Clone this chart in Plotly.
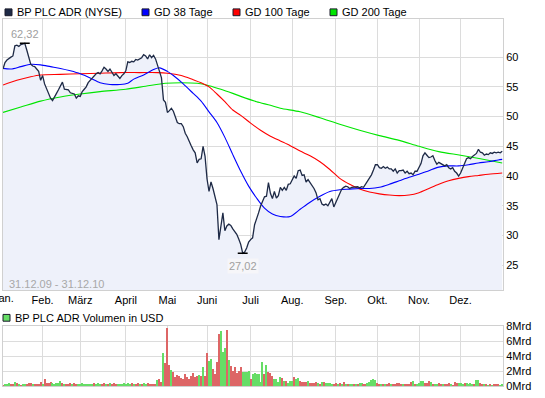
import pandas as pd
import plotly.graph_objects as go

# ---------------- data ----------------
holidays = ['2010-01-01', '2010-01-18', '2010-02-15', '2010-04-02', '2010-05-31',
            '2010-07-05', '2010-09-06', '2010-11-25', '2010-12-24']
dates = [d for d in pd.bdate_range('2009-12-31', '2010-12-31')
         if d.strftime('%Y-%m-%d') not in holidays]

month_labels = ['Jan.', 'Feb.', 'März', 'April', 'Mai', 'Juni', 'Juli',
                'Aug.', 'Sep.', 'Okt.', 'Nov.', 'Dez.']

price = [
    58.0, 59.1, 59.5, 59.8, 60.0, 60.2, 61.9, 62.0, 61.8, 62.1,
    62.2, 62.32, 61.2, 59.9, 58.8, 58.5, 58.4, 58.0, 57.6, 56.1,
    56.9, 55.5, 54.7, 53.9, 53.1, 52.7, 53.4, 53.9, 54.5, 55.3,
    55.8, 54.6, 54.6, 54.5, 54.0, 53.9, 53.8, 53.1, 53.5, 53.4,
    54.2, 54.6, 55.0, 55.7, 56.1, 56.5, 56.8, 57.2, 57.4, 57.2,
    57.7, 58.3, 58.0, 57.6, 58.0, 57.4, 56.9, 57.2, 56.7, 56.4,
    56.9, 57.2, 57.7, 59.2, 59.1, 59.3, 59.2, 59.6, 59.5, 59.7,
    59.9, 60.4, 60.2, 59.7, 60.4, 59.9, 60.3, 59.7, 58.4, 57.6,
    56.5, 52.8, 52.4, 50.7, 51.0, 51.4, 50.9, 50.1, 49.0, 48.8,
    48.8, 48.3, 47.2, 46.6, 45.7, 45.1, 44.4, 43.9, 42.2, 42.8,
    42.9, 45.0, 43.3, 39.5, 37.4, 39.0, 37.9, 36.4, 35.2, 29.3,
    31.5, 33.8, 30.8, 31.6, 31.9, 31.7, 31.1, 30.6, 30.2, 29.4,
    28.5, 27.02, 27.2, 27.9, 28.9, 29.3, 29.6, 31.8, 33.0, 33.8,
    34.9, 35.6, 36.5, 36.6, 38.9, 37.1, 36.2, 37.4, 36.3, 36.7,
    38.1, 37.6, 38.1, 37.6, 38.6, 38.7, 39.5, 40.0, 39.6, 40.9,
    41.0, 40.1, 40.2, 39.0, 39.4, 38.9, 38.5, 37.9, 37.2, 36.0,
    36.2, 35.3, 35.1, 35.3, 35.0, 35.5, 36.2, 34.8, 35.5, 36.3,
    37.1, 37.8, 38.1, 38.3, 38.2, 37.9, 38.1, 38.1, 38.1, 38.2,
    38.0, 38.2, 38.1, 38.6, 39.0, 39.6, 40.2, 41.0, 41.9, 41.9,
    41.4, 41.3, 41.6, 41.3, 41.5, 41.2, 41.2, 40.8, 41.2, 40.5,
    40.9, 40.9, 41.0, 40.5, 40.8, 40.4, 40.5, 40.2, 40.8, 40.8,
    41.4, 42.1, 43.4, 43.9, 43.5, 43.1, 43.2, 43.4, 42.6, 42.0,
    42.3, 42.1, 41.9, 41.7, 41.9, 41.4, 41.2, 41.4, 40.8, 40.5,
    40.0, 40.5, 41.3, 42.0, 42.9, 43.1, 42.9, 43.3, 43.5, 43.8,
    44.5, 44.0, 43.9, 43.5, 43.7, 43.6, 43.9, 43.8, 44.0, 43.9,
    44.0, 43.9, 44.17,
]

gd38_day = [0, 4, 9, 14, 19, 24, 29, 34, 39, 44, 49, 54, 59, 63, 66, 71, 76, 79,
            83, 86, 91, 96, 100, 104, 108, 112, 116, 120, 124, 128, 132, 136,
            140, 145, 150, 155, 160, 165, 170, 175, 180, 185, 190, 195, 200,
            205, 210, 215, 220, 225, 230, 235, 240, 245, 250, 252]
gd38 = [58.1, 58.0, 58.4, 58.8, 58.7, 58.4, 58.1, 57.7, 57.2, 56.5, 55.7, 55.4,
        55.4, 55.6, 56.3, 57.0, 57.9, 58.2, 57.6, 56.9, 55.5, 53.9, 52.6, 50.8,
        49.0, 46.5, 43.6, 40.8, 38.3, 36.3, 34.6, 33.6, 33.2, 33.2, 34.4, 35.6,
        36.6, 37.4, 37.7, 37.8, 37.9, 37.9, 38.1, 38.6, 39.2, 39.8, 40.3, 40.9,
        41.5, 41.7, 41.7, 41.9, 42.2, 42.4, 42.7, 42.8]

gd100_day = [0, 7, 14, 19, 29, 39, 49, 59, 69, 78, 83, 90, 96, 100, 104, 108,
             112, 116, 120, 125, 130, 135, 140, 145, 150, 155, 160, 165, 170,
             175, 180, 185, 190, 195, 200, 205, 210, 215, 220, 225, 230, 235,
             240, 245, 252]
gd100 = [55.3, 56.1, 56.7, 57.0, 57.1, 57.2, 57.3, 57.4, 57.4, 57.4, 57.3, 56.9,
         56.2, 55.7, 55.0, 53.8, 52.5, 51.1, 50.2, 48.9, 47.7, 46.7, 45.9, 45.1,
         44.2, 43.4, 42.4, 41.1, 39.6, 38.6, 37.8, 37.3, 37.0, 36.8, 36.7, 36.8,
         37.2, 37.9, 38.6, 39.2, 39.6, 39.9, 40.1, 40.3, 40.5]

gd200_day = [0, 9, 19, 29, 39, 49, 62, 72, 82, 90, 98, 104, 110, 116, 120, 128,
             135, 140, 150, 160, 170, 180, 190, 200, 210, 220, 231, 241, 252]
gd200 = [50.7, 51.6, 52.6, 53.3, 53.8, 54.2, 54.6, 55.1, 55.6, 55.7, 55.6, 55.2,
         54.6, 53.9, 53.4, 52.5, 51.9, 51.4, 50.8, 49.8, 48.7, 47.7, 46.8, 46.0,
         45.0, 44.1, 43.5, 42.9, 42.2]

# volume in Mrd USD
volume = [
    0.2, 0.3, 0.3, 0.45, 0.3, 0.3, 0.6, 0.45, 0.3, 0.2,
    0.3, 0.3, 0.3, 0.45, 0.45, 0.3, 0.3, 0.3, 0.3, 0.5,
    0.3, 0.95, 0.45, 0.45, 0.55, 0.45, 0.3, 0.45, 0.45, 0.7,
    0.45, 0.3, 0.3, 0.3, 0.45, 0.3, 0.45, 0.3, 0.3, 0.3,
    0.45, 0.3, 0.3, 0.3, 0.3, 0.3, 0.45, 0.3, 0.45, 0.3,
    0.3, 0.45, 0.3, 0.3, 0.45, 0.3, 0.45, 0.3, 0.3, 0.3,
    0.3, 0.45, 0.3, 0.45, 0.3, 0.45, 0.3, 0.3, 0.45, 0.3,
    0.3, 0.45, 0.3, 0.45, 0.3, 0.3, 0.3, 0.3, 0.8, 0.95,
    0.55, 4.4, 3.13, 7.69, 2.86, 2.19, 1.88, 1.21, 1.43, 1.34,
    1.07, 0.98, 1.61, 1.21, 0.98, 1.34, 1.74, 1.21, 1.34, 1.52,
    1.34, 2.55, 1.34, 4.42, 3.35, 3.62, 2.28, 1.61, 3.22, 6.97,
    7.37, 4.56, 5.09, 7.51, 3.49, 2.68, 2.01, 2.55, 1.74, 2.01,
    2.55, 1.88, 1.88, 1.88, 2.01, 0.94, 1.61, 1.74, 1.61, 1.61,
    0.54, 3.22, 1.61, 2.86, 1.88, 1.74, 1.34, 0.94, 0.94, 0.54,
    1.21, 1.07, 0.67, 0.67, 0.40, 0.67, 0.67, 1.21, 0.94, 1.07,
    0.67, 0.54, 0.54, 0.54, 0.67, 0.40, 0.40, 0.40, 0.54, 0.40,
    0.27, 0.54, 0.54, 0.40, 0.40, 0.40, 0.27, 0.27, 0.40, 0.27,
    0.40, 0.27, 0.54, 0.27, 0.27, 0.27, 0.27, 0.27, 0.27, 0.27,
    0.40, 0.40, 0.27, 0.27, 0.40, 0.54, 0.80, 0.94, 0.80, 0.40,
    0.27, 0.27, 0.27, 0.27, 0.27, 0.40, 0.27, 0.27, 0.27, 0.40,
    0.40, 0.27, 0.27, 0.27, 0.27, 0.27, 0.54, 0.67, 0.27, 0.27,
    0.40, 0.67, 0.67, 0.40, 0.40, 0.67, 0.54, 0.27, 0.27, 0.27,
    0.40, 0.27, 0.27, 0.27, 0.27, 0.40, 0.27, 0.18, 0.54, 0.40,
    0.40, 0.40, 0.27, 0.40, 0.40, 0.27, 0.40, 0.27, 0.27, 0.80,
    0.80, 0.40, 0.27, 0.27, 0.27, 0.18, 0.27, 0.18, 0.27, 0.27,
    0.27, 0.18, 0.27,
]
# g = close above previous close, r = below
volume_dir = (
    "rgggrrgrgr" "ggrrrgrrrr" "grrrrggggg" "rgrrrgrrgg" "ggggggrggg"
    "rrgrgrrrgg" "gggggrgrrg" "rggrrrrrgr" "rgrrrgrrrr" "rrrrrrrrrg"
    "rgrrggrrrr" "gggrgrrrrr" "rggggrgggg" "ggrgrrrggg" "grgrgggrgg"
    "rrrrgrrrrg" "rgrggggrrg" "rgrgrggrgr" "ggrrgggggr" "rgrgrrgrrr"
    "rrgrrrrgrg" "gggrrrgrgg" "rrgrrrgrrr" "gggrggggrg" "grrgrgrgrr"
    "rgg"
)

# ---------------- geometry helpers ----------------
W, H = 545, 398
def px(v):
    return v / W
def py(v):
    return 1 - v / H

x = list(range(len(dates)))
tick_idx = [0] + [next(i for i, d in enumerate(dates) if d.year == 2010 and d.month == m)
                  for m in range(2, 13)]
colors = ['#66dd66' if c == 'g' else '#dd6666' for c in volume_dir]

FONT = 'Liberation Sans, Arial, sans-serif'
GRID = '#dcdcdc'
NAVY = '#1e2a46'
X0, X1 = 3, 503          # plot area left / right (px)
XR = [0, 252.4]          # x range in trading days

fig = go.Figure()
fig.add_trace(go.Scatter(x=x, y=price, fill='tozeroy', fillcolor='#eef1fa',
                         line=dict(width=0), hoverinfo='skip', showlegend=False))
fig.add_trace(go.Scatter(x=gd200_day, y=gd200, mode='lines', name='GD 200 Tage',
                         line=dict(color='#00e600', width=1.1, shape='spline', smoothing=0.8)))
fig.add_trace(go.Scatter(x=gd100_day, y=gd100, mode='lines', name='GD 100 Tage',
                         line=dict(color='#ff0000', width=1.1, shape='spline', smoothing=0.8)))
fig.add_trace(go.Scatter(x=gd38_day, y=gd38, mode='lines', name='GD 38 Tage',
                         line=dict(color='#0000ff', width=1.1, shape='spline', smoothing=0.8)))
fig.add_trace(go.Scatter(x=x, y=price, mode='lines', name='BP PLC ADR (NYSE)',
                         text=[d.strftime('%d.%m.%y') for d in dates],
                         line=dict(color=NAVY, width=1.3)))
fig.add_trace(go.Bar(x=x, y=volume, marker=dict(color=colors, line=dict(width=0)),
                     width=0.55, xaxis='x2', yaxis='y2', name='Volumen'))

# extreme markers
i_max = max(range(len(price)), key=lambda i: price[i])
i_min = min(range(len(price)), key=lambda i: price[i])
shapes = []
annotations = []
for i in (i_max, i_min):
    shapes.append(dict(type='line', xref='x', yref='y', x0=i - 2.5, x1=i + 2.5,
                       y0=price[i], y1=price[i], line=dict(color='black', width=1.5)))
annotations.append(dict(xref='x', yref='y', x=i_max, y=price[i_max],
                        text=f"{price[i_max]:.2f}".replace('.', ','), showarrow=False,
                        yanchor='bottom', yshift=1,
                        font=dict(family=FONT, size=11, color='#a0a0a0')))
annotations.append(dict(xref='x', yref='y', x=i_min, y=price[i_min],
                        text=f"{price[i_min]:.2f}".replace('.', ','), showarrow=False,
                        yanchor='top', yshift=-5, bgcolor='rgba(246,246,248,0.9)',
                        font=dict(family=FONT, size=11, color='#a0a0a0')))
annotations.append(dict(xref='paper', yref='paper', x=px(7), y=py(287),
                        xanchor='left', yanchor='middle', showarrow=False,
                        text=f"{dates[0].strftime('%d.%m.%y')} - {dates[-1].strftime('%d.%m.%y')}",
                        font=dict(family=FONT, size=11, color='#a8a8a8')))

# first month label sits on the left edge and is clipped there, as in the reference
jan_px = X0 + (tick_idx[0] - XR[0]) / (XR[1] - XR[0]) * (X1 - X0)
annotations.append(dict(xref='paper', yref='paper', x=px(jan_px), y=py(301),
                        xanchor='center', yanchor='middle', showarrow=False,
                        text=month_labels[0],
                        font=dict(family=FONT, size=11, color='black')))
tick_text = [''] + month_labels[1:]

# custom legends
legend_items = [
    (5, 6.5, NAVY, 'BP PLC ADR (NYSE)'),
    (142, 6.5, '#0000ff', 'GD 38 Tage'),
    (233, 6.5, '#ff0000', 'GD 100 Tage'),
    (330, 6.5, '#00e600', 'GD 200 Tage'),
    (3, 321.5, '#66dd66', 'BP PLC ADR Volumen in USD'),
]
for lx, ly, col, label in legend_items:
    shapes.append(dict(type='rect', xref='paper', yref='paper',
                       x0=px(lx), x1=px(lx + 7), y0=py(ly + 3.5), y1=py(ly - 3.5),
                       fillcolor=col, line=dict(color='#1a1a2a', width=1)))
    annotations.append(dict(xref='paper', yref='paper', x=px(lx + 10), y=py(ly),
                            xanchor='left', yanchor='middle', showarrow=False,
                            text=label, font=dict(family=FONT, size=11, color='black')))

x_common = dict(range=XR, tickvals=tick_idx, ticktext=tick_text,
                showgrid=True, gridcolor=GRID, gridwidth=1, zeroline=False,
                showline=True, mirror=True, linecolor='#d0d0d0', linewidth=1,
                ticks='', domain=[px(X0), px(X1)])

fig.update_layout(
    width=W, height=H,
    margin=dict(l=0, r=0, t=0, b=0),
    paper_bgcolor='white', plot_bgcolor='white',
    showlegend=False, bargap=0,
    font=dict(family=FONT, size=11, color='black'),
    xaxis=dict(**x_common, anchor='y',
               tickfont=dict(family=FONT, size=11, color='black')),
    xaxis2=dict(**x_common, anchor='y2', showticklabels=False, matches='x'),
    yaxis=dict(domain=[py(293), py(13.3)], range=[20.8, 66.43], side='right',
               tickvals=[25, 30, 35, 40, 45, 50, 55, 60], showgrid=True,
               gridcolor=GRID, zeroline=False, showline=True, mirror=True,
               linecolor='#d0d0d0', ticks='', anchor='x',
               tickfont=dict(family=FONT, size=11, color='black')),
    yaxis2=dict(domain=[py(392), py(330)], range=[0, 8], side='right',
                tickvals=[0, 2, 4, 6, 8], ticktext=[f'{v}Mrd' for v in [0, 2, 4, 6, 8]],
                showgrid=True, gridcolor=GRID, zeroline=False, showline=True,
                mirror=True, linecolor='#d0d0d0', ticks='', anchor='x2',
                tickfont=dict(family=FONT, size=11, color='black')),
    shapes=shapes,
    annotations=annotations,
)

fig.write_html("out.html", config={'displayModeBar': False},
               post_script="document.body.style.margin='0px';"
                           "document.body.style.overflow='hidden';")
